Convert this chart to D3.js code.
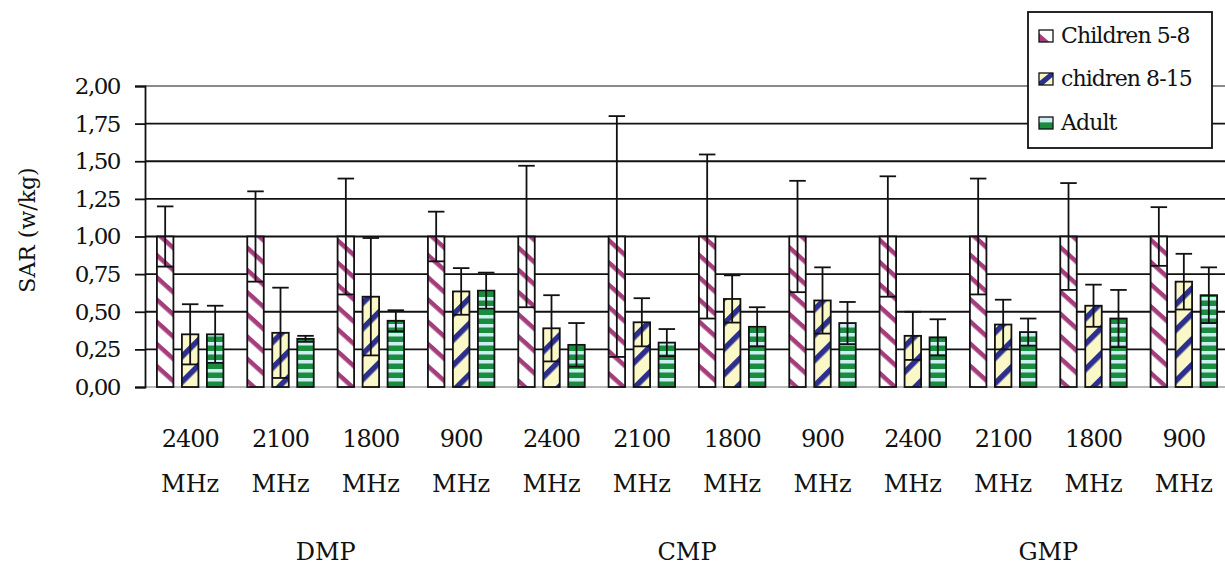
<!DOCTYPE html>
<html>
<head>
<meta charset="utf-8">
<script src="https://cdn.jsdelivr.net/npm/d3@7"></script>
<style>
  html, body { margin: 0; padding: 0; background: #fff; }
  svg { display: block; }
  text { font-family: "DejaVu Serif", serif; fill: #111; }
</style>
</head>
<body>
<svg id="chart" width="1225" height="565"></svg>
<script>
// ---------------- data ----------------
const groups = ["DMP", "CMP", "GMP"];
const freqs = ["2400", "2100", "1800", "900"];
const seriesNames = ["Children 5-8", "chidren 8-15", "Adult"];
const yTicks = [0, 0.25, 0.5, 0.75, 1.0, 1.25, 1.5, 1.75, 2.0];

const children58    = [1.00, 1.00, 1.00, 1.00, 1.00, 1.00, 1.00, 1.00, 1.00, 1.00, 1.00, 1.00];
const children58Err = [0.20, 0.30, 0.385, 0.165, 0.47, 0.80, 0.545, 0.37, 0.40, 0.385, 0.355, 0.195];
const children815    = [0.35, 0.36, 0.60, 0.635, 0.39, 0.43, 0.585, 0.575, 0.34, 0.415, 0.54, 0.70];
const children815Err = [0.20, 0.30, 0.39, 0.155, 0.22, 0.16, 0.157, 0.22, 0.16, 0.165, 0.14, 0.185];
const adult    = [0.35, 0.32, 0.44, 0.64, 0.28, 0.295, 0.40, 0.425, 0.33, 0.365, 0.455, 0.61];
const adultErr = [0.19, 0.02, 0.07, 0.12, 0.145, 0.09, 0.13, 0.14, 0.12, 0.09, 0.19, 0.185];

// ---------------- build ----------------
const categories = [];
groups.forEach(g => freqs.forEach(f => categories.push(g + "|" + f)));
const seriesVals = [children58, children815, adult];
const seriesErrs = [children58Err, children815Err, adultErr];

const rows = [];
categories.forEach((c, i) => {
  seriesNames.forEach((s, j) => {
    rows.push({cat: c, series: s, si: j, value: seriesVals[j][i], err: seriesErrs[j][i]});
  });
});

const svg = d3.select("#chart");
const plotLeft = 145, plotRight = 1229, plotTop = 86, plotBottom = 387;
const ink = "#111";
const sw = 1.8;

const y = d3.scaleLinear().domain([0, 2]).range([plotBottom, plotTop]);
const x0 = d3.scaleBand().domain(categories).range([plotLeft, plotRight]).padding(0);
const x1 = d3.scaleBand().domain(seriesNames).range([0, x0.bandwidth()])
  .paddingInner(0.34).paddingOuter(0.477);

// ---------------- patterns ----------------
const defs = svg.append("defs");
const p1 = defs.append("pattern").attr("id", "pat0").attr("patternUnits", "userSpaceOnUse")
  .attr("width", 40).attr("height", 16.5).attr("patternTransform", "rotate(42)");
p1.append("rect").attr("width", 40).attr("height", 16.5).attr("fill", "#ffffff");
p1.append("rect").attr("width", 40).attr("height", 4.5).attr("fill", "#a53d7d");

const p2 = defs.append("pattern").attr("id", "pat1").attr("patternUnits", "userSpaceOnUse")
  .attr("width", 40).attr("height", 18).attr("patternTransform", "rotate(-45)");
p2.append("rect").attr("width", 40).attr("height", 18).attr("fill", "#fbf8c8");
p2.append("rect").attr("width", 40).attr("height", 5.5).attr("fill", "#2c2f8e");

const p3 = defs.append("pattern").attr("id", "pat2").attr("patternUnits", "userSpaceOnUse")
  .attr("width", 20).attr("height", 9);
p3.append("rect").attr("width", 20).attr("height", 9).attr("fill", "#cdeef3");
p3.append("rect").attr("y", 3.5).attr("width", 20).attr("height", 5.5).attr("fill", "#1a8c3e");

// ---------------- grid & axis ----------------
const grid = svg.append("g");
grid.selectAll("line.grid").data(yTicks.filter(t => t > 0)).join("line")
  .attr("x1", plotLeft).attr("x2", 1225)
  .attr("y1", d => y(d)).attr("y2", d => y(d))
  .attr("stroke", d => d === 2 ? "#8a8a8a" : ink)
  .attr("stroke-width", sw);
grid.append("line").attr("x1", plotLeft).attr("x2", 1225)
  .attr("y1", y(0)).attr("y2", y(0)).attr("stroke", "#b8b8b8").attr("stroke-width", sw);

const yAxis = d3.axisLeft(y).tickValues(yTicks).tickSize(10)
  .tickFormat(d => d3.format(".2f")(d).replace(".", ","));
const ay = svg.append("g").attr("transform", `translate(${plotLeft},0)`).call(yAxis);
ay.select(".domain").attr("stroke", ink).attr("stroke-width", sw);
ay.selectAll(".tick line").attr("stroke", ink).attr("stroke-width", sw);
ay.selectAll(".tick text").attr("x", -25).attr("font-size", 23)
  .attr("font-family", "DejaVu Serif").attr("fill", ink).attr("letter-spacing", -1.5);

svg.append("text").attr("transform", "translate(35,230) rotate(-90)")
  .attr("text-anchor", "middle").attr("font-size", 22).text("SAR (w/kg)");

// ---------------- bars ----------------
const bars = svg.append("g");
bars.selectAll("rect").data(rows).join("rect")
  .attr("x", d => x0(d.cat) + x1(d.series))
  .attr("y", d => y(d.value))
  .attr("width", x1.bandwidth())
  .attr("height", d => y(0) - y(d.value))
  .attr("fill", d => `url(#pat${d.si})`)
  .attr("stroke", ink).attr("stroke-width", sw);

// error bars
const eb = svg.append("g").attr("stroke", ink).attr("stroke-width", sw);
rows.forEach(d => {
  const bx = x0(d.cat) + x1(d.series);
  const bc = bx + x1.bandwidth() / 2;
  const hi = d.value + d.err, lo = Math.max(0, d.value - d.err);
  eb.append("line").attr("x1", bc).attr("x2", bc).attr("y1", y(lo)).attr("y2", y(hi));
  eb.append("line").attr("x1", bx).attr("x2", bx + x1.bandwidth()).attr("y1", y(hi)).attr("y2", y(hi));
  eb.append("line").attr("x1", bx).attr("x2", bx + x1.bandwidth()).attr("y1", y(lo)).attr("y2", y(lo));
});

// ---------------- x labels ----------------
const xLab = svg.append("g");
categories.forEach(c => {
  const cx = x0(c) + x0.bandwidth() / 2;
  const f = c.split("|")[1];
  xLab.append("text").attr("x", cx).attr("y", 447).attr("text-anchor", "middle")
    .attr("font-size", 24).attr("letter-spacing", -1).text(f);
  xLab.append("text").attr("x", cx).attr("y", 492).attr("text-anchor", "middle")
    .attr("font-size", 24).text("MHz");
});
groups.forEach(g => {
  const cats = categories.filter(c => c.startsWith(g + "|"));
  const cx = (x0(cats[0]) + x0(cats[cats.length - 1]) + x0.bandwidth()) / 2;
  xLab.append("text").attr("x", cx).attr("y", 560).attr("text-anchor", "middle")
    .attr("font-size", 24).text(g);
});

// ---------------- legend ----------------
const lg = svg.append("g");
lg.append("rect").attr("x", 1028).attr("y", 12).attr("width", 184).attr("height", 136)
  .attr("fill", "#fff").attr("stroke", ink).attr("stroke-width", sw);
const rowY = [36, 79, 123];
seriesNames.forEach((s, j) => {
  const g = lg.append("g").attr("transform", `translate(1039,${rowY[j] - 6})`);
  const w = 14, h = 12;
  if (j === 0) {
    g.append("rect").attr("width", w).attr("height", h).attr("fill", "#fff");
    g.append("path").attr("d", `M0,${h*0.25} L${w*0.75},${h} L0,${h} Z`).attr("fill", "#a53d7d");
  } else if (j === 1) {
    g.append("rect").attr("width", w).attr("height", h).attr("fill", "#fbf8c8");
    g.append("path").attr("d", `M0,${h} L0,${h*0.7} L${w*0.75},0 L${w},0 L${w},${h*0.3} L${w*0.3},${h} Z`).attr("fill", "#2c2f8e");
  } else {
    g.append("rect").attr("width", w).attr("height", h).attr("fill", "#cdeef3");
    g.append("rect").attr("y", h * 0.45).attr("width", w).attr("height", h * 0.55).attr("fill", "#1a8c3e");
  }
  g.append("rect").attr("width", w).attr("height", h).attr("fill", "none")
    .attr("stroke", ink).attr("stroke-width", 1.3);
  lg.append("text").attr("x", 1061).attr("y", rowY[j] + 7).attr("font-size", 22)
    .attr("letter-spacing", -0.9).text(s);
});
</script>
</body>
</html>
